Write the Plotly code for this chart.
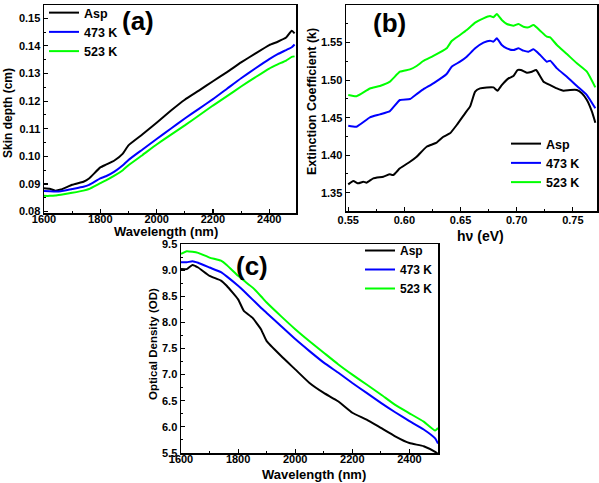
import plotly.graph_objects as go

# ---------------- Panel (a): Skin depth vs wavelength ----------------
a_wavelength = [1600, 1620, 1640, 1660, 1700, 1740, 1760, 1800, 1820, 1850, 1880, 1900, 1950,
                2000, 2050, 2100, 2150, 2200, 2250, 2300, 2350, 2400, 2430, 2460, 2480, 2490]
a_asp = [0.0885, 0.0883, 0.0876, 0.0880, 0.0897, 0.0908, 0.0920, 0.0960, 0.0970, 0.0985, 0.1010,
         0.1040, 0.1080, 0.1122, 0.1165, 0.1205, 0.1238, 0.1272, 0.1305, 0.1340, 0.1372, 0.1403,
         0.1415, 0.1430, 0.1455, 0.1445]
a_473 = [0.0875, 0.0874, 0.0873, 0.0874, 0.0882, 0.0890, 0.0897, 0.0920, 0.0928, 0.0945, 0.0968,
         0.0987, 0.1025, 0.1063, 0.1100, 0.1137, 0.1172, 0.1207, 0.1245, 0.1283, 0.1318, 0.1352,
         0.1370, 0.1385, 0.1395, 0.1405]
a_523 = [0.0857, 0.0857, 0.0858, 0.0861, 0.0868, 0.0876, 0.0882, 0.0903, 0.0913, 0.0930, 0.0950,
         0.0968, 0.1005, 0.1043, 0.1078, 0.1112, 0.1148, 0.1184, 0.1218, 0.1253, 0.1286, 0.1318,
         0.1333, 0.1347, 0.1360, 0.1362]

# ---------------- Panel (b): Extinction coefficient vs photon energy ----------------
b_energy_asp = [0.550, 0.5545, 0.5589, 0.5634, 0.5663, 0.5723, 0.5812, 0.5871, 0.5901, 0.5960,
                0.6050, 0.6109, 0.6198, 0.6287, 0.6347, 0.6406, 0.6466, 0.6540, 0.6585, 0.6630,
                0.6674, 0.6734, 0.6793, 0.6829, 0.6867, 0.6927, 0.6971, 0.7007, 0.7037, 0.7090,
                0.7135, 0.7173, 0.7239, 0.7298, 0.7358, 0.7417, 0.7476, 0.7536, 0.7580, 0.7625,
                0.7670, 0.7700]
b_asp = [1.3611, 1.3656, 1.3625, 1.3647, 1.3634, 1.3692, 1.3714, 1.3745, 1.3736, 1.3825,
         1.3913, 1.3980, 1.4113, 1.4167, 1.4246, 1.4291, 1.4402, 1.4557, 1.4650, 1.4846,
         1.4890, 1.4903, 1.4903, 1.4859, 1.4934, 1.5023, 1.5054, 1.5134, 1.5134, 1.5099,
         1.5112, 1.5134, 1.4979, 1.4934, 1.4890, 1.4859, 1.4868, 1.4868, 1.4824, 1.4735,
         1.4579, 1.4433]
b_energy = [0.550, 0.5574, 0.5693, 0.5782, 0.5871, 0.5960, 0.6050, 0.6109, 0.6168, 0.6258,
            0.6376, 0.6421, 0.6495, 0.6555, 0.6630, 0.6704, 0.6763, 0.6793, 0.6823, 0.6867,
            0.6912, 0.6971, 0.7016, 0.7060, 0.7105, 0.7150, 0.7209, 0.7268, 0.7298, 0.7358,
            0.7447, 0.7536, 0.7625, 0.7700]
b_473 = [1.4393, 1.4380, 1.4504, 1.4544, 1.4588, 1.4735, 1.4748, 1.4814, 1.4877, 1.4957,
         1.5081, 1.5179, 1.5245, 1.5312, 1.5423, 1.5498, 1.5525, 1.5512, 1.5556, 1.5467,
         1.5423, 1.5400, 1.5423, 1.5392, 1.5378, 1.5410, 1.5334, 1.5245, 1.5259, 1.5156,
         1.5045, 1.4921, 1.4801, 1.4624]
b_523 = [1.4801, 1.4785, 1.4888, 1.4921, 1.4979, 1.5112, 1.5143, 1.5188, 1.5254, 1.5321,
         1.5423, 1.5520, 1.5600, 1.5667, 1.5765, 1.5822, 1.5853, 1.5836, 1.5880, 1.5800,
         1.5747, 1.5725, 1.5747, 1.5711, 1.5703, 1.5734, 1.5658, 1.5578, 1.5569, 1.5467,
         1.5347, 1.5223, 1.5112, 1.4903]

# ---------------- Panel (c): Optical density vs wavelength ----------------
c_wavelength = [1600, 1620, 1640, 1660, 1700, 1740, 1760, 1800, 1820, 1850, 1880, 1900, 1950,
                2000, 2050, 2100, 2150, 2200, 2250, 2300, 2350, 2400, 2450, 2490, 2500]
c_asp = [9.02, 9.02, 9.10, 9.05, 8.89, 8.80, 8.70, 8.44, 8.22, 8.09, 7.87, 7.64, 7.36,
         7.10, 6.84, 6.65, 6.49, 6.27, 6.14, 5.98, 5.82, 5.69, 5.63, 5.52, 5.48]
c_473 = [9.15, 9.15, 9.17, 9.14, 9.05, 8.96, 8.88, 8.70, 8.60, 8.44, 8.28, 8.18, 7.93,
         7.68, 7.45, 7.23, 7.04, 6.84, 6.65, 6.46, 6.28, 6.11, 5.95, 5.78, 5.68]
c_523 = [9.31, 9.36, 9.35, 9.33, 9.24, 9.18, 9.10, 8.89, 8.80, 8.67, 8.50, 8.38, 8.12,
         7.87, 7.64, 7.42, 7.20, 7.00, 6.81, 6.62, 6.42, 6.26, 6.10, 5.93, 5.98]

series_names = ["Asp", "473 K", "523 K"]
series_colors = ["#000000", "#0000ff", "#00ff00"]

W, H = 599, 483
FONT = "Liberation Sans, Arial, sans-serif"

fig = go.Figure()

def add_series(xs_list, ys_list, xa, ya, legend):
    for xs, ys, name, col in zip(xs_list, ys_list, series_names, series_colors):
        fig.add_trace(go.Scatter(x=xs, y=ys, mode="lines", name=name,
                                 line=dict(color=col, width=2, shape="spline", smoothing=0.4),
                                 xaxis=xa, yaxis=ya, legend=legend))

add_series([a_wavelength] * 3, [a_asp, a_473, a_523], "x", "y", "legend")
add_series([b_energy_asp, b_energy, b_energy], [b_asp, b_473, b_523], "x2", "y2", "legend2")
add_series([c_wavelength] * 3, [c_asp, c_473, c_523], "x3", "y3", "legend3")

def px_x(p):
    return p / W

def px_y(p):
    return 1 - p / H

axis_common = dict(showline=True, linecolor="black", linewidth=1.5, mirror=True,
                   ticks="inside", ticklen=4, tickwidth=1.2, tickcolor="black",
                   showgrid=False, zeroline=False, automargin=False,
                   tickfont=dict(family=FONT, size=11, color="black", weight="bold"))
minor_common = dict(ticks="inside", ticklen=2, tickwidth=1, tickcolor="black", showgrid=False)

fig.update_layout(
    template="none",
    width=W, height=H, margin=dict(l=0, r=0, t=0, b=0, autoexpand=False),
    paper_bgcolor="white", plot_bgcolor="white",
    font=dict(family=FONT, color="black"),
    xaxis=dict(axis_common, domain=[px_x(44), px_x(296)], range=[1600, 2495],
               tickvals=[1600, 1800, 2000, 2200, 2400], anchor="y", ticklabelstandoff=-5,
               minor=dict(minor_common, dtick=100)),
    yaxis=dict(axis_common, domain=[px_y(213), px_y(5)], range=[0.0795, 0.1548],
               dtick=0.01, tick0=0.08, tickformat=".2f", anchor="x",
               minor=dict(minor_common, dtick=0.005)),
    xaxis2=dict(axis_common, domain=[px_x(346), px_x(597)], range=[0.548, 0.7715],
                dtick=0.05, tick0=0.55, tickformat=".2f", anchor="y2", ticklabelstandoff=-2,
                minor=dict(minor_common, dtick=0.025)),
    yaxis2=dict(axis_common, domain=[px_y(211), px_y(5)], range=[1.3257, 1.60],
                dtick=0.05, tick0=1.35, tickformat=".2f", anchor="x2",
                minor=dict(minor_common, dtick=0.025)),
    xaxis3=dict(axis_common, domain=[px_x(181), px_x(438)], range=[1600, 2500],
                tickvals=[1600, 1800, 2000, 2200, 2400], anchor="y3", ticklabelstandoff=-5,
                minor=dict(minor_common, dtick=100)),
    yaxis3=dict(axis_common, domain=[px_y(453), px_y(244)], range=[5.5, 9.5],
                dtick=0.5, tick0=5.5, tickformat=".1f", anchor="x3",
                minor=dict(minor_common, dtick=0.25)),
    legend=dict(x=px_x(44), y=px_y(-2), xanchor="left", yanchor="top",
                bgcolor="rgba(0,0,0,0)", tracegroupgap=0,
                font=dict(family=FONT, size=12.5, color="black", weight="bold")),
    legend2=dict(x=px_x(506), y=px_y(129), xanchor="left", yanchor="top",
                 bgcolor="rgba(0,0,0,0)",
                 font=dict(family=FONT, size=12.5, color="black", weight="bold")),
    legend3=dict(x=px_x(360), y=px_y(236), xanchor="left", yanchor="top",
                 bgcolor="rgba(0,0,0,0)",
                 font=dict(family=FONT, size=12, color="black", weight="bold")),
    showlegend=True,
)

def ann(text, x, y, size, angle=0):
    fig.add_annotation(text=text, x=px_x(x), y=px_y(y), xref="paper", yref="paper",
                       showarrow=False, textangle=angle, xanchor="center", yanchor="middle",
                       font=dict(family=FONT, size=size, color="black", weight="bold"))

# panel labels
ann("(a)", 138, 21, 26)
ann("(b)", 390, 23, 26)
ann("(c)", 252, 266, 26)
# axis titles
ann("Wavelength (nm)", 166, 232, 13)
ann("Skin depth (cm)", 8, 113, 12, -90)
ann("hν (eV)", 480, 236, 14)
ann("Extinction Coefficient (k)", 312, 102, 12.5, -90)
ann("Wavelength (nm)", 314, 474, 13)
ann("Optical Density (OD)", 153, 344, 11.5, -90)

fig.write_html("out.html",
               config={"displayModeBar": False, "staticPlot": True},
               post_script="document.body.style.margin='0';document.body.style.overflow='hidden';")
